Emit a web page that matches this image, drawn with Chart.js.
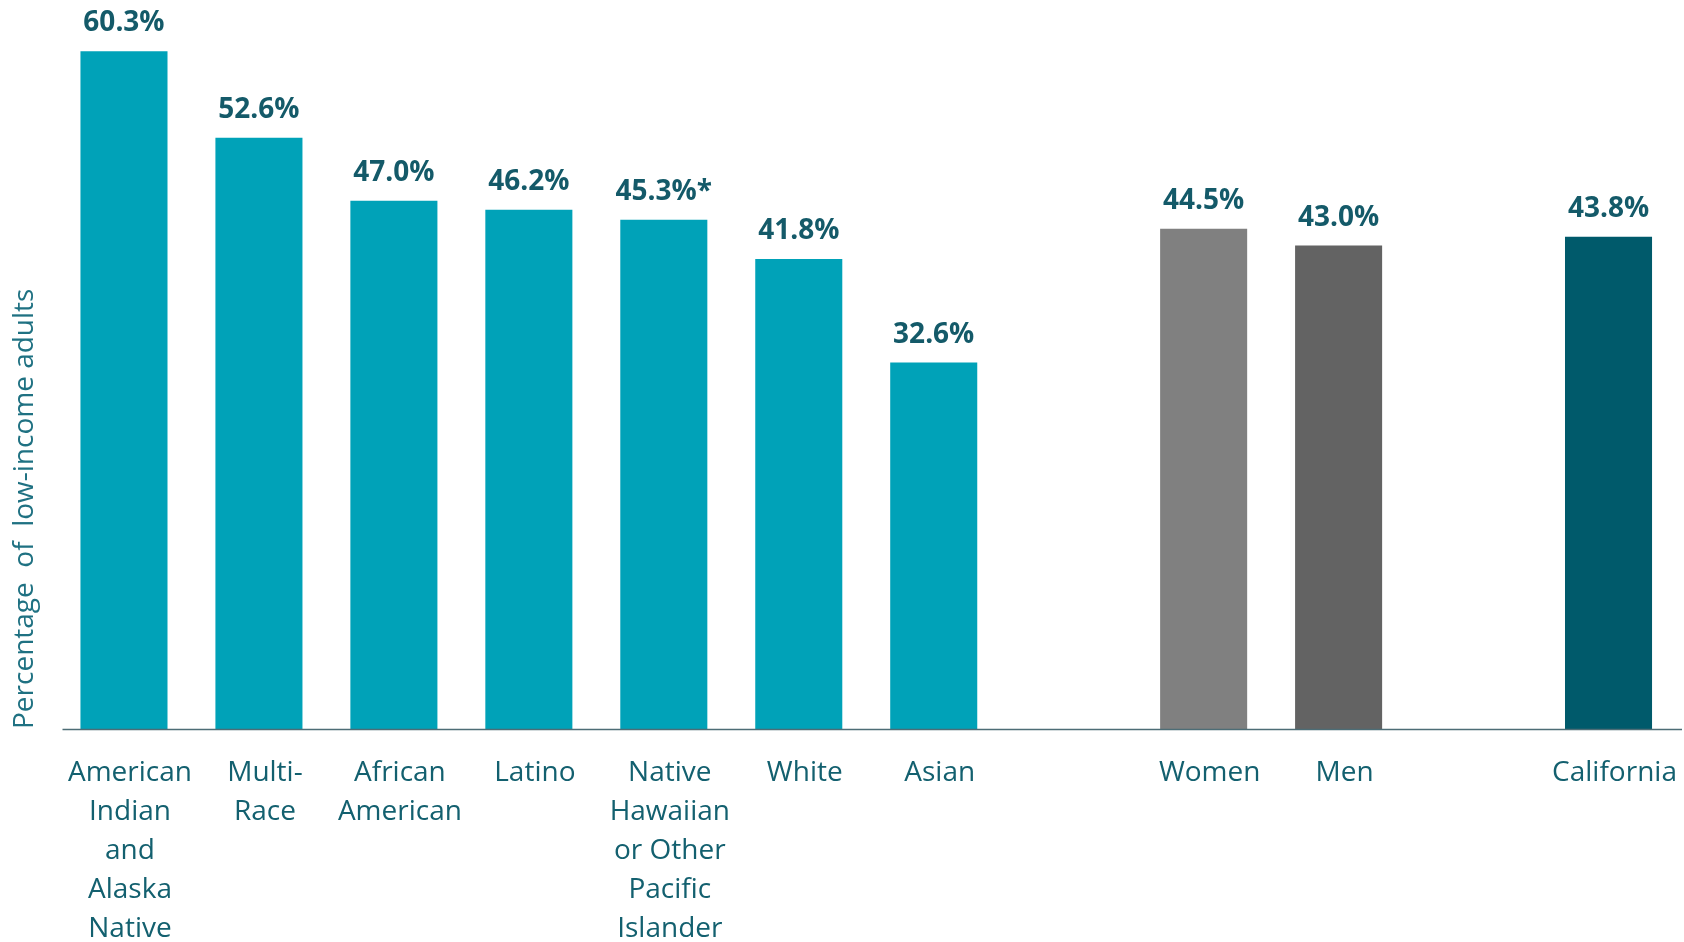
<!DOCTYPE html>
<html>
<head>
<meta charset="utf-8">
<script src="https://cdn.jsdelivr.net/npm/chart.js@4.4.1/dist/chart.umd.min.js"></script>
<style>
  html, body { margin: 0; padding: 0; background: #ffffff; }
  #wrap { width: 1684px; height: 942px; }
</style>
</head>
<body>
<div id="wrap"><canvas id="chart"></canvas></div>
<script>
// Share of low-income adults, by race/ethnicity, by gender and statewide
const categories = [
  ['American', 'Indian', 'and', 'Alaska', 'Native'],
  ['Multi-', 'Race'],
  ['African', 'American'],
  'Latino',
  ['Native', 'Hawaiian', 'or Other', 'Pacific', 'Islander'],
  'White',
  'Asian',
  '',
  'Women',
  'Men',
  '',
  'California'
];
const values = [60.3, 52.6, 47.0, 46.2, 45.3, 41.8, 32.6, null, 44.5, 43.0, null, 43.8];
const notes  = ['', '', '', '', '*', '', '', '', '', '', '', ''];
const groups = ['race', 'race', 'race', 'race', 'race', 'race', 'race', null, 'women', 'men', null, 'state'];
const yTitle = 'Percentage  of  low-income adults';

const groupColors = { race: '#00a2b8', women: '#808080', men: '#636363', state: '#005a6b' };
const labelColor = '#145a69';
const tickColor = '#13606f';
const fontFamily = '"Open Sans", "Noto Sans", sans-serif';
const slotShift = 6; // tick labels and baseline sit slightly right of the bars

// value labels above each bar
const valueLabels = {
  id: 'valueLabels',
  afterDatasetsDraw(chart) {
    const { ctx } = chart;
    const meta = chart.getDatasetMeta(0);
    ctx.save();
    ctx.fillStyle = labelColor;
    ctx.font = 'bold 28px ' + fontFamily;
    ctx.textAlign = 'center';
    ctx.textBaseline = 'alphabetic';
    meta.data.forEach((bar, i) => {
      if (values[i] == null) return;
      ctx.fillText(values[i].toFixed(1) + '%' + notes[i], bar.x, bar.y - 20);
    });
    ctx.restore();
  }
};

// horizontal baseline under the bars
const baseline = {
  id: 'baseline',
  afterDatasetsDraw(chart) {
    const { ctx, chartArea } = chart;
    const y = chart.scales.y.getPixelForValue(0);
    ctx.save();
    ctx.strokeStyle = '#4d6d76';
    ctx.lineWidth = 1.5;
    ctx.beginPath();
    ctx.moveTo(chartArea.left + slotShift, y + 0.5);
    ctx.lineTo(chartArea.right + slotShift, y + 0.5);
    ctx.stroke();
    ctx.restore();
  }
};

new Chart(document.getElementById('chart'), {
  type: 'bar',
  data: {
    labels: categories,
    datasets: [{
      data: values,
      backgroundColor: groups.map(g => g ? groupColors[g] : 'rgba(0,0,0,0)'),
      borderWidth: 0,
      categoryPercentage: 1.0,
      barPercentage: 0.645
    }]
  },
  options: {
    responsive: true,
    maintainAspectRatio: false,
    animation: false,
    layout: { padding: { top: 0, right: 8, left: 0, bottom: 0 } },
    plugins: {
      legend: { display: false },
      tooltip: { enabled: false }
    },
    scales: {
      x: {
        grid: { display: false, drawTicks: false },
        border: { display: false },
        ticks: {
          color: tickColor,
          font: { family: fontFamily, size: 28, lineHeight: 1.39 },
          padding: 25,
          labelOffset: slotShift,
          maxRotation: 0,
          autoSkip: false
        },
        afterFit(scale) {
          scale.height = 213;
          scale.paddingLeft = 0;
          scale.paddingRight = 0;
        }
      },
      y: {
        min: 0,
        max: 64.85,
        grid: { display: false },
        border: { display: false },
        ticks: { display: false },
        title: {
          display: true,
          text: yTitle,
          align: 'start',
          color: '#1f7182',
          font: { family: fontFamily, size: 28 },
          padding: { top: 8, bottom: 0 }
        },
        afterFit(scale) { scale.width = 56.5; }
      }
    }
  },
  plugins: [valueLabels, baseline]
});
</script>
</body>
</html>
